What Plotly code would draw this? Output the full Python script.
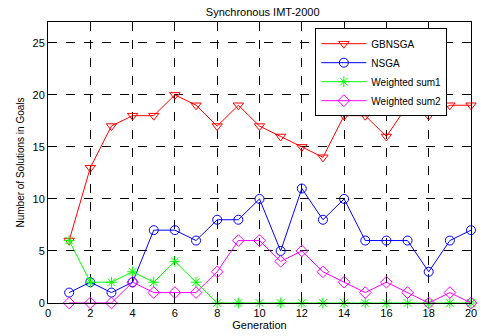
import plotly.graph_objects as go

generation = list(range(1, 21))
gbnsga = [6, 13, 17, 18, 18, 20, 19, 17, 19, 17, 16, 15, 14, 18, 18, 16, 19, 18, 19, 19]
nsga = [1, 2, 1, 2, 7, 7, 6, 8, 8, 10, 5, 11, 8, 10, 6, 6, 6, 3, 6, 7]
wsum1 = [6, 2, 2, 3, 2, 4, 2, 0, 0, 0, 0, 0, 0, 0, 0, 0, 0, 0, 0, 0]
wsum2 = [0, 0, 0, 2, 1, 1, 1, 3, 6, 6, 4, 5, 3, 2, 1, 2, 1, 0, 1, 0]
x_ticks = list(range(0, 21, 2))
y_ticks = list(range(0, 26, 5))

fig = go.Figure()
series = [
    ("GBNSGA", gbnsga, "#FF0000", "triangle-down-open"),
    ("NSGA", nsga, "#0000FF", "circle-open"),
    ("Weighted sum1", wsum1, "#00FF00", "asterisk-open"),
    ("Weighted sum2", wsum2, "#FF00FF", "diamond-open"),
]
for name, vals, col, sym in series:
    fig.add_trace(go.Scatter(
        x=generation, y=vals, name=name, mode="lines+markers",
        line=dict(color=col, width=1),
        marker=dict(symbol=sym, size=9, color=col, line=dict(color=col, width=1)),
        cliponaxis=False,
    ))

axis_common = dict(
    showline=True, linecolor="black", linewidth=1, mirror="ticks",
    ticks="inside", ticklen=5, tickcolor="black",
    showgrid=True, gridcolor="black", griddash="dash", gridwidth=1,
    zeroline=False, ticklabeloverflow="allow",
    tickfont=dict(family="Liberation Sans, Arial", size=11, color="black"),
)

fig.update_layout(
    width=482, height=336,
    margin=dict(l=48, r=5, t=22, b=33),
    paper_bgcolor="white", plot_bgcolor="white",
    title=dict(text="Synchronous IMT-2000", x=0.545, xanchor="center", y=0.975, yanchor="top",
               font=dict(family="Liberation Sans, Arial", size=11, color="black")),
    xaxis=dict(range=[0, 20], tickvals=x_ticks,
               title=dict(text="Generation", standoff=2,
                          font=dict(family="Liberation Sans, Arial", size=11, color="black")),
               **axis_common),
    yaxis=dict(range=[0, 27], tickvals=y_ticks,
               title=dict(text="Number of Solutions in Goals", standoff=6,
                          font=dict(family="Liberation Sans, Arial", size=10, color="black")),
               **axis_common),
    legend=dict(x=0.632, y=0.978, xanchor="left", yanchor="top",
                bgcolor="white", bordercolor="black", borderwidth=1,
                font=dict(family="Liberation Sans, Arial", size=10, color="black"),
                tracegroupgap=0, itemwidth=45),
    showlegend=True,
)

fig.write_html("out.html")
